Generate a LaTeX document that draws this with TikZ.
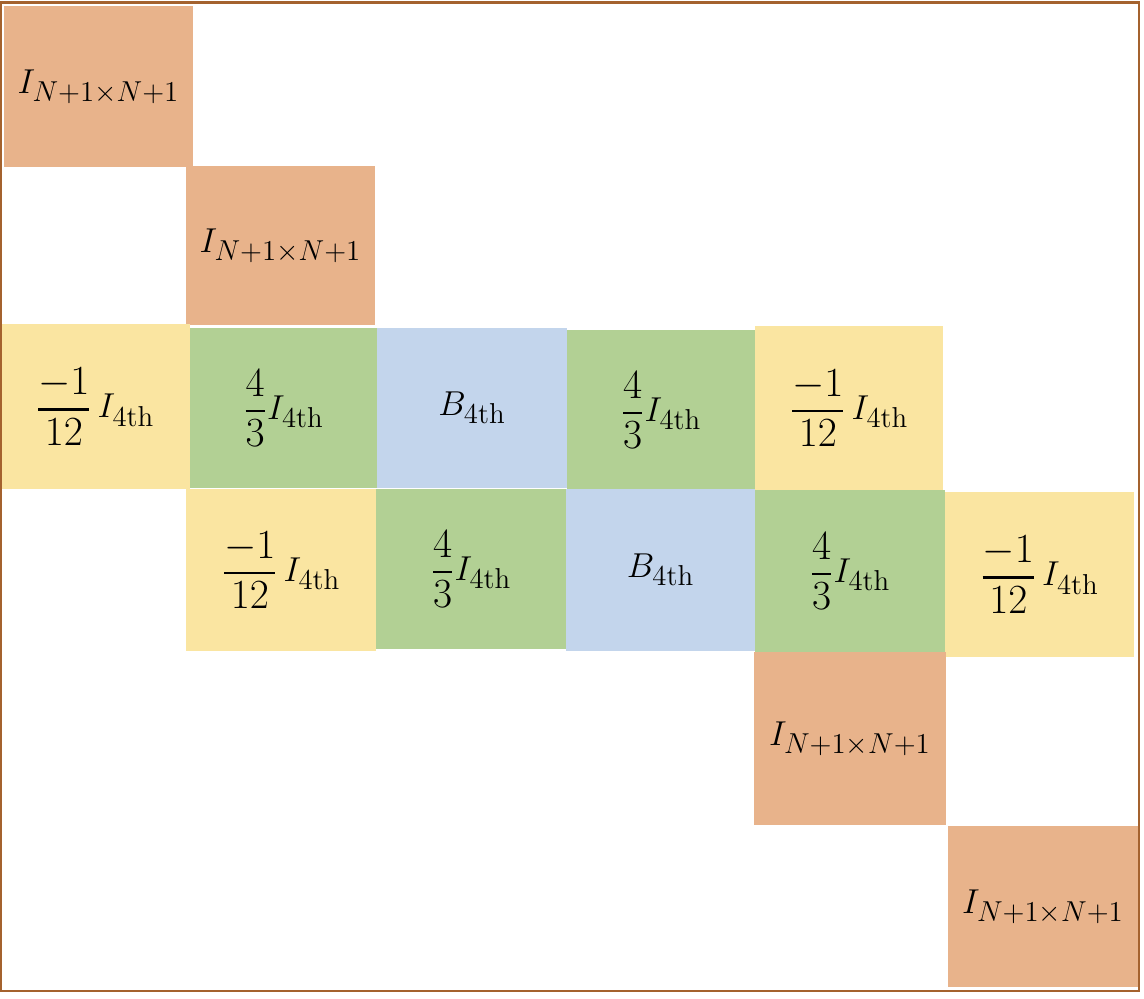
\documentclass[tikz,border=0pt]{standalone}
\usepackage{amsmath}
\DeclareMathSizes{19}{19}{15}{12}
\definecolor{orng}{RGB}{232,179,139}
\definecolor{yel}{RGB}{250,229,161}
\definecolor{grn}{RGB}{178,208,148}
\definecolor{blu}{RGB}{195,213,236}
\definecolor{frm}{RGB}{164,98,46}
\tikzset{
  cell/.style={inner sep=0pt, draw=none, anchor=center, font=\fontsize{19}{22}\selectfont},
  ocell/.style={cell, fill=orng},
  ycell/.style={cell, fill=yel},
  gcell/.style={cell, fill=grn},
  bcell/.style={cell, fill=blu},
  frame/.style={draw=frm, line width=1.3pt, inner sep=0pt, anchor=center}
}
% \cellnode{style}{name}{x1}{y1}{x2}{y2}{text}
\newcommand\cellnode[7]{%
  \node[#1, minimum width={(#5-#3)*0.5pt}, minimum height={(#6-#4)*0.5pt}]
    (#2) at ({(#3+#5)/2},{(#4+#6)/2}) {#7};}
\newcommand\BigNum[1]{\mbox{\fontsize{21}{23}\selectfont$#1$}}
\newcommand\Frc[2]{\genfrac{}{}{1.3pt}{0}{\BigNum{#1}}{\BigNum{#2}}}
\newcommand\LblI{$I_{N+1\times N+1}$}
\newcommand\LblY{$\Frc{-1}{12}\,I_{\mathrm{4th}}$}
\newcommand\LblG{$\Frc{4}{3}I_{\mathrm{4th}}$}
\newcommand\LblB{$B_{\mathrm{4th}}$}
\begin{document}
\begin{tikzpicture}[x=0.5pt,y=-0.5pt]
\useasboundingbox (0,0) rectangle (1144,998);
% orange identity blocks
\cellnode{ocell}{o1}{4}{6}{193}{167}{\LblI}
\cellnode{ocell}{o2}{186}{166}{375}{325}{\LblI}
% row 3
\cellnode{ycell}{y1}{0}{324}{190}{489}{\LblY}
\cellnode{gcell}{g1}{190}{328}{377}{488}{\LblG}
\cellnode{bcell}{b1}{377}{328}{567}{488}{\LblB}
\cellnode{gcell}{g2}{567}{330}{755}{490}{\LblG}
\cellnode{ycell}{y2}{755}{326}{943}{490}{\LblY}
% row 4
\cellnode{ycell}{y3}{186}{489}{376}{651}{\LblY}
\cellnode{gcell}{g3}{376}{489}{566}{649}{\LblG}
\cellnode{bcell}{b2}{566}{489}{755}{651}{\LblB}
\cellnode{gcell}{g4}{755}{490}{945}{652}{\LblG}
\cellnode{ycell}{y4}{945}{492}{1134}{657}{\LblY}
% lower identity blocks
\cellnode{ocell}{o3}{754}{652}{946}{825}{\LblI}
\cellnode{ocell}{o4}{948}{826}{1138}{987}{\LblI}
% outer frame
\cellnode{frame}{fr}{1}{2.7}{1139}{991}{}
\end{tikzpicture}
\end{document}
